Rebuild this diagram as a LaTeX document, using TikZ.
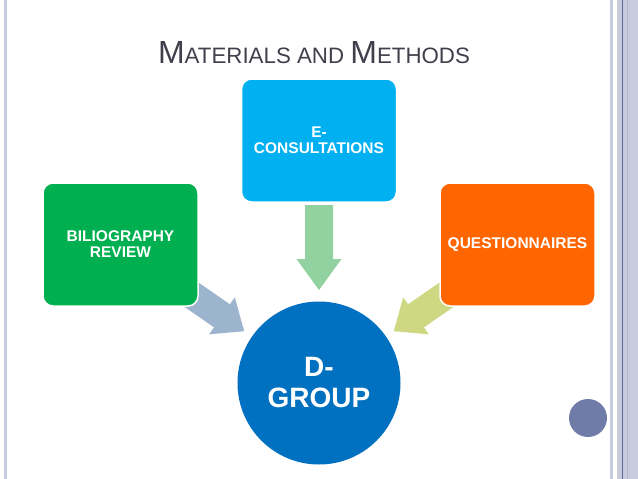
\documentclass[tikz,border=0pt]{standalone}
\usepackage{fontspec}
\setmainfont{Liberation Sans}
\usetikzlibrary{calc}
\definecolor{cblue}{HTML}{00B0F0}
\definecolor{cgreen}{HTML}{00B050}
\definecolor{corange}{HTML}{FF6600}
\definecolor{ccircle}{HTML}{0070C0}
\definecolor{agreen}{RGB}{146,210,160}
\definecolor{agrey}{RGB}{157,180,206}
\definecolor{ayellow}{RGB}{206,216,130}
\definecolor{cdot}{RGB}{112,124,168}
\definecolor{edgelight}{RGB}{200,203,219}
\definecolor{edgedark}{RGB}{92,102,150}
\definecolor{titlegrey}{RGB}{64,64,76}
\tikzset{
  boxnode/.style={rectangle, rounded corners=10pt, minimum width=155pt, minimum height=123pt,
    draw=white, line width=1.5pt, text=white, align=center,
    font=\bfseries\fontsize{15.5}{16}\selectfont},
  hubnode/.style={circle, minimum size=163pt, inner sep=0pt, fill=ccircle, text=white, align=center,
    font=\bfseries\fontsize{28}{31}\selectfont},
}
% #1 tip coordinate, #2 direction angle, #3 total length, #4 head length, #5 colour
\newcommand\convarrow[5]{%
  \fill[#5] (#1) -- ($(#1)+(#2+180:#4)+(#2+90:22.5)$) -- ($(#1)+(#2+180:#4)+(#2+90:14)$)
    -- ($(#1)+(#2+180:#3)+(#2+90:14)$) -- ($(#1)+(#2+180:#3)+(#2-90:14)$)
    -- ($(#1)+(#2+180:#4)+(#2-90:14)$) -- ($(#1)+(#2+180:#4)+(#2-90:22.5)$) -- cycle;}
\begin{document}
\begin{tikzpicture}[x=1pt,y=-1pt]
\useasboundingbox (0,0) rectangle (638,479);
\fill[white] (0,0) rectangle (638,479);
% slide edges
\fill[edgelight] (3.5,0) rectangle (7,479);
\fill[edgelight] (610,0) rectangle (613,479);
\fill[edgelight] (617,0) rectangle (638,479);
\draw[edgedark, line width=1pt] (622.3,0) -- (622.3,479);
\draw[edgelight!80!edgedark, line width=0.8pt] (627.7,0) -- (627.7,479);
% title
\node[anchor=base, text=titlegrey] (title) at (314,63)
  {{\fontsize{32}{36}\selectfont M}{\fontsize{22.3}{26}\selectfont ATERIALS AND }{\fontsize{32}{36}\selectfont M}{\fontsize{22.3}{26}\selectfont ETHODS}};
% hub
\node[hubnode] (D) at (319,383) {D-\\GROUP};
% tips
\coordinate (tipE) at ($(D)+(270:93)$);
\coordinate (tipB) at ($(D)+(214.7:91)$);
\coordinate (tipQ) at ($(D)+(325.3:91)$);
% arrows
\convarrow{tipE}{90}{85}{31}{agreen}
\convarrow{tipB}{34.7}{80}{27}{agrey}
\convarrow{tipQ}{145.3}{80}{27}{ayellow}
% boxes
\node[boxnode, fill=cblue] (E) at (319,140.5) {E-\\CONSULTATIONS};
\node[boxnode, fill=cgreen] (B) at (120.5,244.5) {BILIOGRAPHY\\REVIEW};
\node[boxnode, fill=corange] (Q) at (517.5,244.5) {QUESTIONNAIRES};
% small dot
\fill[cdot] (588,418) circle[radius=19];
\end{tikzpicture}
\end{document}
